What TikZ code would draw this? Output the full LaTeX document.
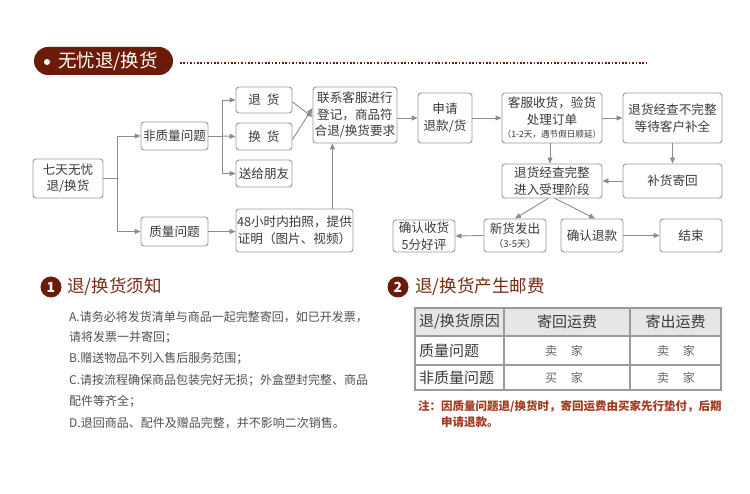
\documentclass[tikz,border=0pt]{standalone}
\usepackage{fontspec}
\setmainfont{Noto Sans CJK SC}
\usetikzlibrary{arrows.meta,calc}
\definecolor{pill}{HTML}{6B1B07}
\definecolor{head}{HTML}{7A2A12}
\definecolor{boxc}{HTML}{9A9A9A}
\definecolor{arrc}{HTML}{8C8C8C}
\definecolor{txt}{HTML}{3A3A3A}
\definecolor{btxt}{HTML}{505050}
\definecolor{note}{HTML}{A33A1E}
\definecolor{thead}{HTML}{E6E6E6}
\definecolor{tcell}{HTML}{666666}
\begin{document}
\begin{tikzpicture}[x=1pt,y=-1pt,
 fbox/.style={draw=boxc, line width=0.9pt, rounded corners=3pt, fill=white, align=center, text=txt, font=\fontsize{12.6}{16.5}\selectfont, inner sep=0pt},
 arr/.style={draw=arrc, line width=0.9pt, -{Triangle[length=6pt,width=5pt]}},
 ln/.style={draw=arrc, line width=0.9pt},
 bullet/.style={anchor=west, text=btxt, font=\fontsize{12}{14}\selectfont, inner sep=0pt},
 heading/.style={anchor=west, text=head, font=\fontsize{17.5}{20}\selectfont, inner sep=0pt},
 numc/.style={circle, fill=pill, text=white, minimum size=21pt, inner sep=0pt, font=\fontsize{14}{14}\selectfont\bfseries},
 th/.style={text=txt, font=\fontsize{15}{18}\selectfont, inner sep=0pt},
 tc/.style={text=tcell, font=\fontsize{12}{14}\selectfont, inner sep=0pt},
]
\useasboundingbox (0,0) rectangle (750,494);
\fill[white] (0,0) rectangle (750,494);

% header pill
\fill[pill, rounded corners=14pt] (34,47) rectangle (173,75);
\fill[white] (47,62) circle (3);
\node[text=white, font=\fontsize{18.5}{20}\selectfont, inner sep=0pt] (title) at (108,61) {无忧退/换货};
\coordinate (d1) at (180,63);
\coordinate (d2) at (648,63);
\draw[pill, line width=2pt, dash pattern=on 1.6pt off 1.8pt] (d1) -- (d2);

% flowchart nodes
\node[fbox, minimum width=70pt, minimum height=39pt] (start) at (68,178.5) {七天无忧\\退/换货};
\node[fbox, minimum width=67pt, minimum height=28pt] (nq) at (174.5,136) {非质量问题};
\node[fbox, minimum width=67pt, minimum height=29pt] (q) at (174.5,231.5) {质量问题};
\node[fbox, minimum width=56pt, minimum height=26pt] (tui) at (264,100) {退\hspace{6pt}货};
\node[fbox, minimum width=56pt, minimum height=27pt] (huan) at (264,136.5) {换\hspace{6pt}货};
\node[fbox, minimum width=56pt, minimum height=27pt] (song) at (264,173.5) {送给朋友};
\node[fbox, minimum width=84pt, minimum height=56pt] (lx) at (355,115) {联系客服进行\\登记，商品符\\合退/换货要求};
\node[fbox, minimum width=117pt, minimum height=43pt] (ph) at (294.5,230.5) {48小时内拍照，提供\\证明（图片、视频）};
\node[fbox, minimum width=54pt, minimum height=50pt] (sq) at (445,118) {申请\\退款/货};
\node[fbox, minimum width=100pt, minimum height=50pt] (kf) at (552,118) {客服收货，验货\\处理订单\\[-3pt]{\fontsize{8.6}{9.5}\selectfont（1-2天，遇节假日顺延）}};
\node[fbox, minimum width=99pt, minimum height=50pt] (bwz) at (672.5,118) {退货经查不完整\\等待客户补全};
\node[fbox, minimum width=100pt, minimum height=34pt] (wz) at (552,181) {退货经查完整\\进入受理阶段};
\node[fbox, minimum width=99pt, minimum height=34pt] (bh) at (672.5,181) {补货寄回};
\node[fbox, minimum width=62pt, minimum height=33pt] (xh) at (515,235.5) {新货发出\\[-3pt]{\fontsize{9.5}{10}\selectfont（3-5天）}};
\node[fbox, minimum width=62pt, minimum height=32pt] (qs) at (424,236) {确认收货\\5分好评};
\node[fbox, minimum width=62pt, minimum height=33pt] (qt) at (592,235.5) {确认退款};
\node[fbox, minimum width=62pt, minimum height=33pt] (js) at (691,235.5) {结束};

% connectors
\coordinate (b1) at (117,178.5);
\draw[ln] (start.east) -- (b1);
\draw[arr] (b1) |- (nq.west);
\draw[arr] (b1) |- (q.west);
\coordinate (b2) at (222,136);
\draw[ln] (nq.east) -- (b2);
\draw[arr] (b2) |- (tui.west);
\draw[arr] (b2) -- (huan.west);
\draw[arr] (b2) |- (song.west);
\draw[arr] ([yshift=-2pt]tui.east) -- ([yshift=-2pt]lx.west);
\draw[arr] ([yshift=-3pt]huan.east) -- ([yshift=7pt]lx.west);
\draw[arr] (q.east) -- (q.east -| ph.west);
\draw[arr] ([xshift=-21pt]ph.north east) -- ([xshift=-21pt]ph.north east |- lx.south);
\draw[arr] (lx.east |- sq.west) -- (sq.west);
\draw[arr] (sq.east) -- (kf.west);
\draw[arr] (kf.east) -- (bwz.west);
\draw[arr] ([xshift=-2pt]kf.south) -- ([xshift=-2pt]wz.north);
\draw[arr] (bwz.south) -- (bh.north);
\draw[arr] (bh.west) -- (wz.east);
\draw[arr] ([xshift=-4pt]wz.south) -- (xh.north);
\draw[arr] ([xshift=3pt]wz.south) -- ([xshift=3pt]qt.north);
\draw[arr] (xh.west) -- (qs.east);
\draw[arr] (qt.east) -- (js.west);

% section 1
\node[numc] (n1) at (51,287) {1};
\node[heading] (h1) at (67,287) {退/换货须知};
\node[bullet] (l1) at (69,317) {A.请务必将发货清单与商品一起完整寄回，如已开发票，};
\node[bullet] (l2) at (69,337.5) {请将发票一并寄回；};
\node[bullet] (l3) at (69,358.5) {B.赠送物品不列入售后服务范围；};
\node[bullet] (l4) at (69,380) {C.请按流程确保商品包装完好无损；外盒塑封完整、商品};
\node[bullet] (l5) at (69,401.5) {配件等齐全；};
\node[bullet] (l6) at (69,423) {D.退回商品、配件及赠品完整，并不影响二次销售。};

% section 2
\node[numc] (n2) at (398,287) {2};
\node[heading] (h2) at (415,287) {退/换货产生邮费};
\fill[thead] (415,308) rectangle (721,336);
\draw[boxc, line width=1.3pt] (415,308) rectangle (721,390);
\draw[boxc, line width=1.1pt] (415,336) -- (721,336) (415,365) -- (721,365) (504,308) -- (504,390) (630,308) -- (630,390);
\node[th] (t11) at (459.5,322) {退/换货原因};
\node[th] (t12) at (567,322) {寄回运费};
\node[th] (t13) at (675.5,322) {寄出运费};
\node[th, anchor=west] (t21) at (419,350.5) {质量问题};
\node[tc] (t22) at (564,350.5) {卖\hspace{14pt}家};
\node[tc] (t23) at (676,350.5) {卖\hspace{14pt}家};
\node[th, anchor=west] (t31) at (419,377.5) {非质量问题};
\node[tc] (t32) at (564,377.5) {买\hspace{14pt}家};
\node[tc] (t33) at (676,377.5) {卖\hspace{14pt}家};
\node[anchor=west, text=note, font=\fontsize{11.5}{13}\selectfont\bfseries, inner sep=0pt] (nt1) at (418,407) {注：因质量问题退/换货时，寄回运费由买家先行垫付，后期};
\node[anchor=west, text=note, font=\fontsize{11.5}{13}\selectfont\bfseries, inner sep=0pt] (nt2) at (441,422.5) {申请退款。};
\end{tikzpicture}
\end{document}
